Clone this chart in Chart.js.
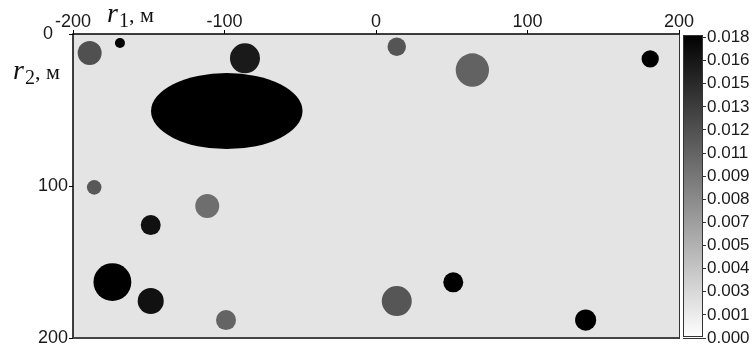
<!DOCTYPE html>
<html>
<head>
<meta charset="utf-8">
<script src="https://cdn.jsdelivr.net/npm/chart.js@4"></script>
<style>
  html, body { margin: 0; padding: 0; background: #fff; }
  #wrap { width: 756px; height: 352px; }
</style>
</head>
<body>
<div id="wrap"><canvas id="fieldChart"></canvas></div>
<script>
// circular anomalies: centre r1, r2 (m), radius (m), value
const circX = [-189, -169, -86.5, 13.7, 63.6, 181, -186, -111.4, -148.7, -174, -148.7, -99, 13.7, 51, 138.4];
const circY = [12.5, 5.9, 16, 8.4, 23.7, 16.4, 100.9, 113.2, 125.7, 163.2, 175.7, 188.2, 175.7, 163.4, 188.2];
const circR = [7.9, 3.3, 9.9, 6.1, 11, 5.7, 4.8, 7.9, 6.6, 12.5, 8.6, 6.6, 9.9, 6.6, 7];
const circV = [0.01235, 0.018, 0.01616, 0.012, 0.01108, 0.018, 0.01179, 0.01024, 0.0168, 0.018, 0.0168, 0.01094, 0.01193, 0.018, 0.018];

// elliptic anomaly
const ellX = [-98.5];
const ellY = [50.7];
const ellA = [50];
const ellB = [25];
const ellV = [0.018];

const fieldBase = 0.0019;
const valueMax = 0.018;

const xTicks = [-200, -100, 0, 100, 200];
const yTicks = [0, 100, 200];
const cbLabels = ['0.000', '0.001', '0.003', '0.004', '0.005', '0.007', '0.008', '0.009', '0.011', '0.012', '0.013', '0.015', '0.016', '0.018'];

const tickFont = { family: '"Liberation Sans", Arial, sans-serif', size: 18 };
const cbFont = { family: '"Liberation Sans", Arial, sans-serif', size: 17 };
const tickColor = '#1a1a1a';

function grayOf(v) {
    const g = Math.round(255 * (1 - Math.min(v, valueMax) / valueMax));
    return `rgb(${g}, ${g}, ${g})`;
}

function pxRadius(chart, r) {
    const xs = chart.scales.x;
    return Math.abs(xs.getPixelForValue(r) - xs.getPixelForValue(0));
}

function drawTitle(ctx, x, base, sub) {
    ctx.save();
    ctx.fillStyle = '#111';
    ctx.textBaseline = 'alphabetic';
    ctx.textAlign = 'left';
    ctx.font = 'italic 28px "Liberation Serif", serif';
    ctx.fillText('r', x, base);
    x += ctx.measureText('r').width + 1;
    ctx.font = '20px "Liberation Serif", serif';
    ctx.fillText(sub, x, base + 5);
    x += ctx.measureText(sub).width;
    ctx.font = '22px "Liberation Serif", serif';
    ctx.fillText(', м', x, base);
    ctx.restore();
}

const fieldPlugin = {
    id: 'field',
    beforeDatasetsDraw(chart) {
        const { ctx, chartArea: a, scales } = chart;
        ctx.save();
        ctx.fillStyle = grayOf(fieldBase);
        ctx.fillRect(a.left, a.top, a.right - a.left, a.bottom - a.top);
        ellX.forEach((ex, i) => {
            const cx = scales.x.getPixelForValue(ex);
            const cy = scales.y.getPixelForValue(ellY[i]);
            const rx = pxRadius(chart, ellA[i]);
            const ry = Math.abs(scales.y.getPixelForValue(ellB[i]) - scales.y.getPixelForValue(0));
            ctx.fillStyle = grayOf(ellV[i]);
            ctx.beginPath();
            ctx.ellipse(cx, cy, rx, ry, 0, 0, Math.PI * 2);
            ctx.fill();
        });
        ctx.restore();
    },
    afterDraw(chart) {
        const { ctx, chartArea: a } = chart;
        ctx.save();
        // frame
        ctx.strokeStyle = '#000';
        ctx.lineWidth = 1.5;
        ctx.beginPath();
        ctx.moveTo(a.left, a.bottom);
        ctx.lineTo(a.left, a.top);
        ctx.lineTo(a.right, a.top);
        ctx.stroke();
        ctx.strokeStyle = '#444';
        ctx.lineWidth = 2;
        ctx.beginPath();
        ctx.moveTo(a.left, a.bottom);
        ctx.lineTo(a.right, a.bottom);
        ctx.stroke();
        ctx.strokeStyle = '#333';
        ctx.lineWidth = 1;
        ctx.beginPath();
        ctx.moveTo(a.right + 0.5, a.top);
        ctx.lineTo(a.right + 0.5, a.bottom);
        ctx.stroke();

        // colour bar
        const bx = a.right + 4, bw = 20;
        ctx.fillStyle = '#fff';
        ctx.fillRect(a.right + 1, a.top - 1, bx - a.right - 1, a.bottom - a.top + 3);
        const grad = ctx.createLinearGradient(0, a.top, 0, a.bottom);
        grad.addColorStop(0, grayOf(valueMax));
        grad.addColorStop(1, grayOf(0));
        ctx.fillStyle = grad;
        ctx.fillRect(bx, a.top + 1, bw, a.bottom - a.top - 2);
        ctx.strokeStyle = '#333';
        ctx.lineWidth = 1;
        ctx.strokeRect(bx + 0.5, a.top + 1.5, bw - 1, a.bottom - a.top - 3);
        ctx.restore();

        drawTitle(ctx, a.left + 34, 22, '1');
        drawTitle(ctx, 13, 79, '2');
    }
};

new Chart(document.getElementById('fieldChart').getContext('2d'), {
    type: 'scatter',
    data: {
        datasets: [{
            data: circX.map((x, i) => ({ x, y: circY[i] })),
            backgroundColor: circV.map(grayOf),
            borderWidth: 0,
            pointStyle: 'circle',
            pointRadius: (c) => pxRadius(c.chart, circR[c.dataIndex]),
            pointHoverRadius: (c) => pxRadius(c.chart, circR[c.dataIndex])
        }]
    },
    options: {
        responsive: true,
        maintainAspectRatio: false,
        animation: false,
        layout: { padding: { left: 0, right: 0, top: 0, bottom: 14 } },
        plugins: { legend: { display: false }, tooltip: { enabled: false } },
        scales: {
            x: {
                type: 'linear',
                position: 'top',
                min: -200,
                max: 200,
                afterBuildTicks: (s) => { s.ticks = xTicks.map((v) => ({ value: v })); },
                ticks: { font: tickFont, color: tickColor, padding: -3, maxRotation: 0, autoSkip: false },
                grid: { drawOnChartArea: false, tickLength: 4, color: '#000' },
                border: { display: false },
                afterFit: (s) => { s.height = 34; }
            },
            y: {
                position: 'left',
                reverse: true,
                min: 0,
                max: 200,
                afterBuildTicks: (s) => { s.ticks = yTicks.map((v) => ({ value: v })); },
                ticks: {
                    font: tickFont, color: tickColor, padding: 1, autoSkip: false,
                    callback: (v) => (v === 0 ? '0   ' : String(v))
                },
                grid: { drawOnChartArea: false, tickLength: 4, color: '#000' },
                border: { display: false },
                afterFit: (s) => { s.width = 73; }
            },
            y2: {
                position: 'right',
                min: 0,
                max: 13.15,
                afterBuildTicks: (s) => { s.ticks = cbLabels.map((_, i) => ({ value: i })); },
                ticks: {
                    font: cbFont, color: tickColor, padding: 1, autoSkip: false,
                    callback: (v, i) => cbLabels[i]
                },
                grid: { drawOnChartArea: false, tickLength: 27, color: '#333' },
                border: { display: false },
                afterFit: (s) => { s.width = 77; }
            }
        }
    },
    plugins: [fieldPlugin]
});
</script>
</body>
</html>
